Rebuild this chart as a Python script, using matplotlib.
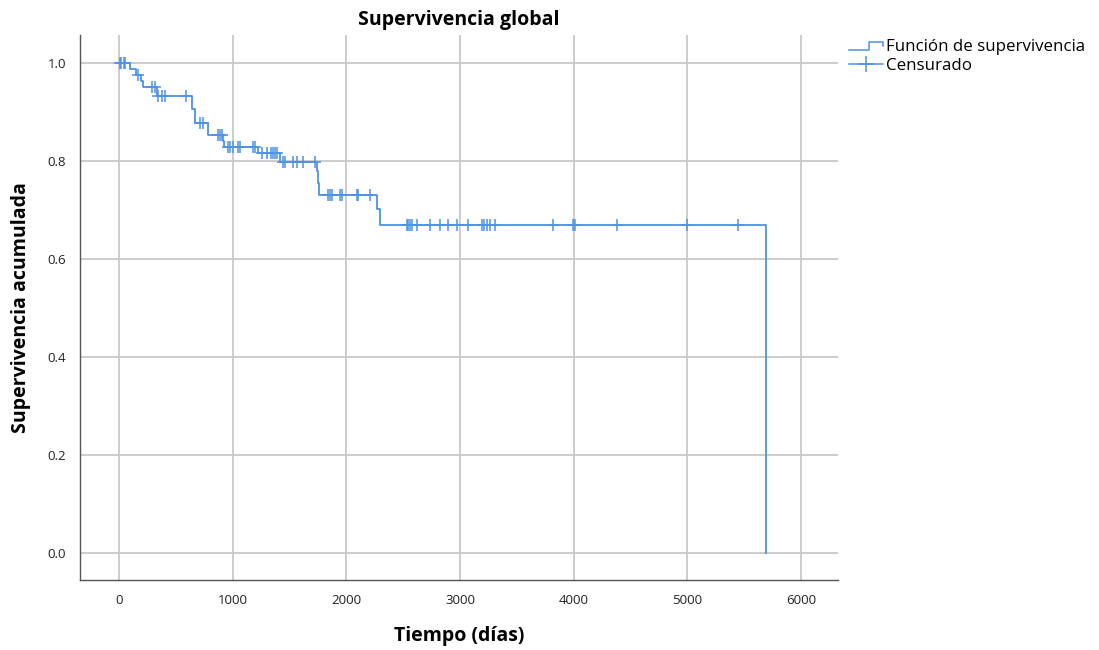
import numpy as np
import matplotlib
matplotlib.use("Agg")
import matplotlib.pyplot as plt
from matplotlib.lines import Line2D
from matplotlib.legend_handler import HandlerBase

# Kaplan-Meier steps (time in days, survival after the event)
event_days = [100, 150, 190, 215, 330, 640, 670, 785, 915, 925, 1220, 1420,
              1740, 1750, 1760, 2270, 2300, 5690]
event_surv = [0.988, 0.976, 0.963, 0.951, 0.932, 0.905, 0.877, 0.853, 0.841,
              0.829, 0.816, 0.798, 0.779, 0.755, 0.731, 0.701, 0.670, 0.0]

# censored observations (days)
censored_days = [5, 20, 40, 55, 165, 290, 317, 345, 378, 405, 590, 712, 738,
                 870, 890, 905, 955, 978, 1005, 1047, 1064, 1178, 1196, 1258,
                 1302, 1337, 1354, 1372, 1390, 1442, 1460, 1530, 1566, 1618,
                 1724, 1838, 1856, 1873, 1944, 1961, 2093, 2102, 2208, 2533,
                 2542, 2559, 2577, 2621, 2735, 2823, 2894, 2973, 3070, 3193,
                 3210, 3237, 3263, 3307, 3817, 3993, 4010, 4380, 4996, 5444]

x_ticks = [0, 1000, 2000, 3000, 4000, 5000, 6000]
y_ticks = [0.0, 0.2, 0.4, 0.6, 0.8, 1.0]

BLUE = "#4d92e3"
GRID = "#c8c8c8"

plt.rcParams['font.family'] = ['Open Sans', 'DejaVu Sans']

step_t = np.array([0] + event_days)
step_s = np.array([1.0] + event_surv)
cens_t = np.array(censored_days)
cens_s = step_s[np.searchsorted(step_t, cens_t, side='right') - 1]


class StepHandler(HandlerBase):
    def create_artists(self, legend, orig_handle, xdescent, ydescent,
                       width, height, fontsize, trans):
        y0 = -ydescent + height * 0.1
        y1 = -ydescent + height * 0.8
        xm = -xdescent + width * 0.6
        xs = [-xdescent, xm, xm, -xdescent + width, -xdescent + width]
        ys = [y0, y0, y1, y1, y0 + (y1 - y0) * 0.45]
        ln = Line2D(xs, ys, color=orig_handle.get_color(), lw=1.1,
                    transform=trans)
        return [ln]


fig = plt.figure(figsize=(10.99, 6.5), dpi=100)
ax = fig.add_axes([0.0728, 0.1077, 0.6897, 0.8385])

ax.set_xlim(-343, 6324)
ax.set_ylim(-0.055, 1.057)
ax.set_xticks(x_ticks)
ax.set_yticks(y_ticks)
ax.set_yticklabels([f"{v:.1f}" for v in y_ticks])
ax.grid(True, color=GRID, lw=1.3)
ax.set_axisbelow(True)
ax.tick_params(length=0, labelsize=9.5, colors="#222222", pad=10)
for side in ["top", "right"]:
    ax.spines[side].set_visible(False)
for side in ["left", "bottom"]:
    ax.spines[side].set_color("#555555")
    ax.spines[side].set_linewidth(1.0)

line, = ax.step(step_t, step_s, where='post', color=BLUE, lw=1.3)
cens, = ax.plot(cens_t, cens_s, ls='none', marker='+', ms=8, mew=1.1,
                color=BLUE)

ax.set_title("Supervivencia global", fontsize=14, fontweight='bold', pad=7)
ax.set_xlabel("Tiempo (días)", fontsize=14, fontweight='bold', labelpad=14)
ax.set_ylabel("Supervivencia acumulada", fontsize=14, fontweight='bold',
              labelpad=12)

leg_line = Line2D([], [], color=BLUE)
leg_cens = Line2D([], [], color=BLUE, ls='-', lw=1.1, marker='+', ms=11,
                  mew=1.1)
fig.legend([leg_line, leg_cens], ["Función de supervivencia", "Censurado"],
           handler_map={leg_line: StepHandler()},
           loc='upper left', bbox_to_anchor=(0.766, 0.950), frameon=False,
           fontsize=12.2, handlelength=2.0, handletextpad=0.2,
           labelspacing=0.15, borderaxespad=0)

fig.savefig("out.png", dpi=100)
